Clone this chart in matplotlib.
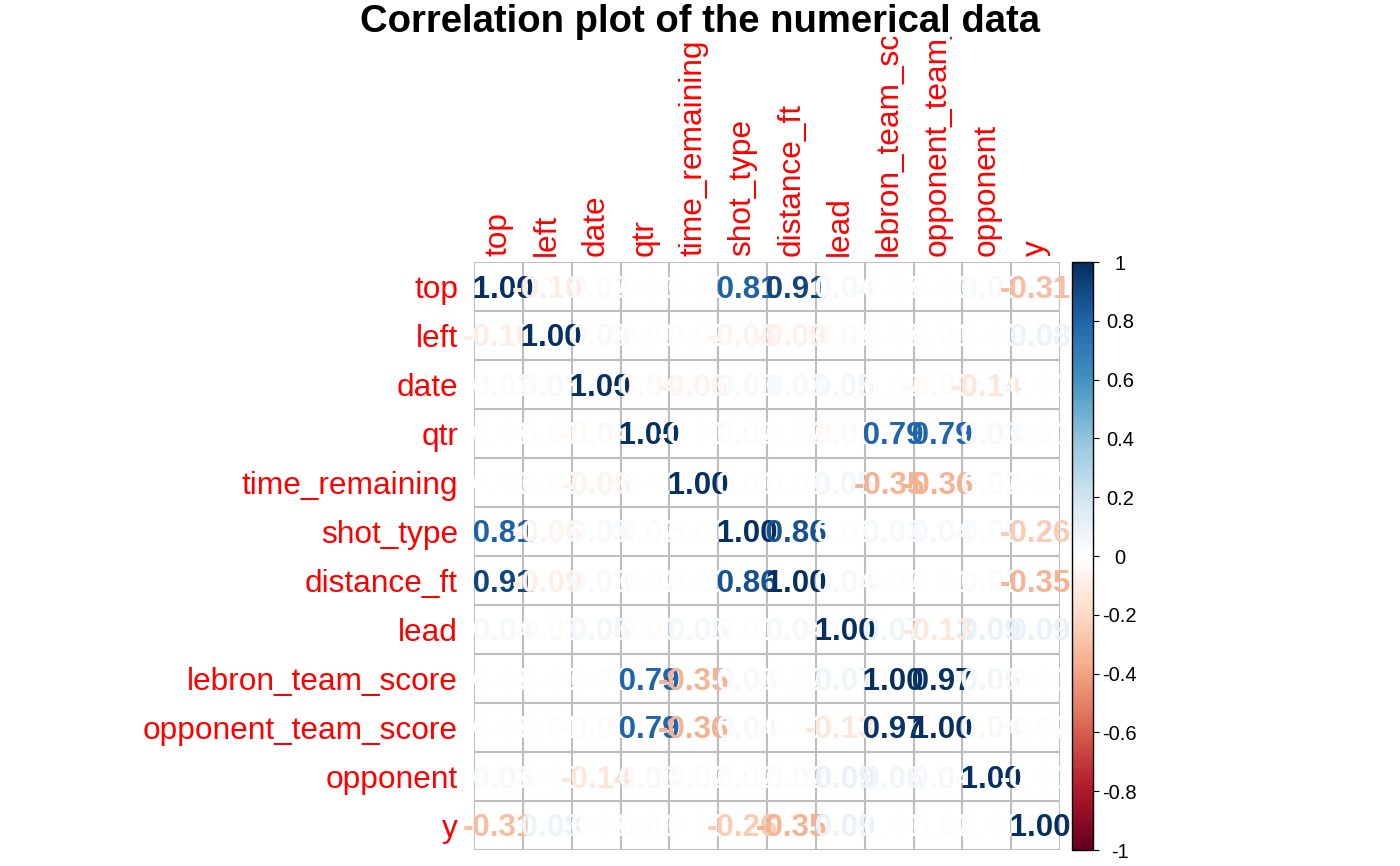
import numpy as np
import matplotlib
matplotlib.use('Agg')
import matplotlib.pyplot as plt
from matplotlib.colors import LinearSegmentedColormap, ListedColormap, Normalize
from matplotlib.transforms import Bbox, TransformedBbox, offset_copy
import matplotlib.cm as cm

plt.rcParams['font.family'] = ['Liberation Sans', 'DejaVu Sans']

variables = ["top", "left", "date", "qtr", "time_remaining", "shot_type",
             "distance_ft", "lead", "lebron_team_score", "opponent_team_score",
             "opponent", "y"]

corr_top = [1.00, -0.10, 0.02, -0.01, 0.00, 0.81, 0.91, 0.04, 0.00, 0.00, 0.03, -0.31]
corr_left = [-0.10, 1.00, 0.03, 0.01, -0.02, -0.06, -0.09, -0.03, 0.00, 0.01, 0.00, 0.08]
corr_date = [0.02, 0.03, 1.00, -0.04, -0.06, 0.03, 0.03, 0.05, -0.02, -0.03, -0.14, -0.01]
corr_qtr = [-0.01, 0.01, -0.04, 1.00, -0.01, 0.02, -0.02, -0.03, 0.79, 0.79, 0.03, 0.01]
corr_time = [0.00, -0.02, -0.06, -0.01, 1.00, 0.01, 0.01, 0.05, -0.35, -0.36, 0.02, 0.00]
corr_shot = [0.81, -0.06, 0.03, 0.02, 0.01, 1.00, 0.86, 0.01, 0.03, 0.04, 0.02, -0.26]
corr_dist = [0.91, -0.09, 0.03, -0.02, 0.01, 0.86, 1.00, 0.04, -0.02, -0.01, 0.02, -0.35]
corr_lead = [0.04, -0.03, 0.05, -0.03, 0.05, 0.01, 0.04, 1.00, 0.07, -0.13, 0.09, 0.09]
corr_lebron = [0.00, 0.00, -0.02, 0.79, -0.35, 0.03, -0.02, 0.07, 1.00, 0.97, 0.06, -0.01]
corr_oppscore = [0.00, 0.01, -0.03, 0.79, -0.36, 0.04, -0.01, -0.13, 0.97, 1.00, 0.04, -0.02]
corr_opponent = [0.03, 0.00, -0.14, 0.03, 0.02, 0.02, 0.02, 0.09, 0.06, 0.04, 1.00, -0.01]
corr_y = [-0.31, 0.08, -0.01, 0.01, 0.00, -0.26, -0.35, 0.09, -0.01, -0.02, -0.01, 1.00]

corr = np.array([corr_top, corr_left, corr_date, corr_qtr, corr_time, corr_shot,
                 corr_dist, corr_lead, corr_lebron, corr_oppscore, corr_opponent, corr_y])

cbar_ticks = [-1, -0.8, -0.6, -0.4, -0.2, 0, 0.2, 0.4, 0.6, 0.8, 1]
cbar_labels = ["-1", "-0.8", "-0.6", "-0.4", "-0.2", "0", "0.2", "0.4", "0.6", "0.8", "1"]

# corrplot COL2('RdBu', 200)
base = LinearSegmentedColormap.from_list(
    "rdbu", ["#67001F", "#B2182B", "#D6604D", "#F4A582", "#FDDBC7", "#FFFFFF",
             "#D1E5F0", "#92C5DE", "#4393C3", "#2166AC", "#053061"])
cmap = ListedColormap(base(np.linspace(0, 1, 200)))
norm = Normalize(-1, 1)

W, H = 1400, 866
fig = plt.figure(figsize=(W / 100, H / 100), dpi=100)

gx0, gx1, gy0, gy1 = 474, 1060, 262, 850
ax = fig.add_axes([gx0 / W, 1 - gy1 / H, (gx1 - gx0) / W, (gy1 - gy0) / H])
n = len(variables)
ax.set_xlim(-0.5, n - 0.5)
ax.set_ylim(n - 0.5, -0.5)
for s in ax.spines.values():
    s.set_visible(False)

for k in range(n + 1):
    ax.axvline(k - 0.5, color="#BEBEBE", lw=1.5, zorder=1)
    ax.axhline(k - 0.5, color="#BEBEBE", lw=1.5, zorder=1)

txt_tr = offset_copy(ax.transData, fig=fig, x=0, y=-3, units="dots")
for j in range(n):
    for i in range(n):
        v = corr[i, j]
        s = f"{v:.2f}" if v < 0 else f" {v:.2f}"
        ax.text(j, i, s, ha="center", va="center", fontsize=22.5,
                fontweight="bold", color=cmap(norm(v)), zorder=3, transform=txt_tr)

ax.set_yticks(range(n))
ax.set_yticklabels(variables, color="red", fontsize=22.8)
ax.tick_params(axis="y", length=0, pad=11.5)
ax.xaxis.tick_top()
ax.set_xticks(range(n))
ax.set_xticklabels(variables, color="red", fontsize=22.8, rotation=90, va="bottom")
ax.tick_params(axis="x", length=0, pad=4)
clip = TransformedBbox(Bbox.from_extents(0, 0, 1, (H - 37) / H), fig.transFigure)
for lab in ax.get_xticklabels():
    lab.set_clip_on(True)
    lab.set_clip_box(clip)

cax = fig.add_axes([1072 / W, 1 - gy1 / H, 21 / W, (gy1 - gy0) / H])
sm = cm.ScalarMappable(norm=norm, cmap=cmap)
cb = fig.colorbar(sm, cax=cax)
cb.outline.set_linewidth(1.0)
cb.outline.set_edgecolor("black")
cb.set_ticks(cbar_ticks)
cb.set_ticklabels(cbar_labels)
cax.tick_params(axis="y", direction="out", length=4.3, width=0.8, pad=15, labelsize=14.5)
for lab in cax.get_yticklabels():
    lab.set_horizontalalignment("center")

fig.text(0.5, 1 - 22 / H, "Correlation plot of the numerical data", ha="center",
         va="center", fontsize=27.5, fontweight="bold")

fig.savefig("out.png", dpi=100)
